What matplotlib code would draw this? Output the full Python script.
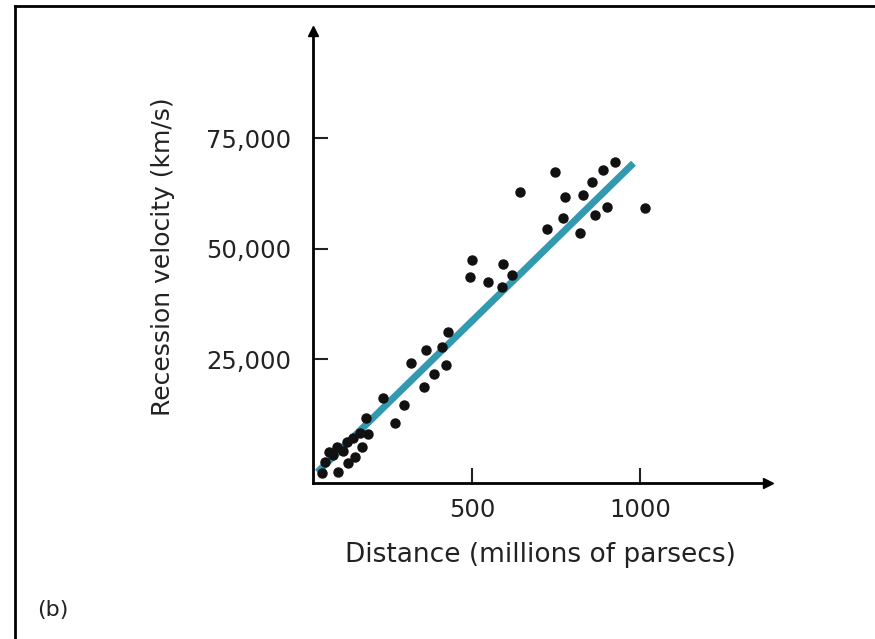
import matplotlib.pyplot as plt
from matplotlib.lines import Line2D

plt.rcParams['font.family'] = ['DejaVu Sans']

# distance (millions of parsecs) and recession velocity (km/s)
distance = [926, 890, 747, 857, 643, 777, 830, 902, 1015, 866, 771, 723, 821,
            500, 592, 494, 548, 619, 589,
            429, 363, 411, 319, 423, 387, 357, 235, 298, 271, 185,
            167, 190, 146, 128, 98, 173, 152, 86, 131, 101, 54, 62, 115, 75]
velocity = [69600, 67800, 67300, 65000, 62800, 61600, 62100, 59400, 59200, 57600, 56900, 54400, 53500,
            47400, 46500, 43500, 42400, 44000, 41300,
            31100, 27000, 27700, 24100, 23600, 21600, 18700, 16200, 14600, 10500, 11600,
            8300, 8000, 7100, 6200, 5100, 5100, 2800, 3300, 1500, -500, -800, 1700, 4200, 3900]

# fitted line end points
fit_d = [40, 980]
fit_v = [-600, 69300]

xticks = [500, 1000]
xlabels = ['500', '1000']
yticks = [25000, 50000, 75000]
ylabels = ['25,000', '50,000', '75,000']

fig = plt.figure(figsize=(8.75, 6.39), dpi=100)
ax = fig.add_axes([0.3577, 0.2441, 0.5200, 0.7080])

ax.plot(fit_d, fit_v, color='#3399b0', lw=5, solid_capstyle='butt', zorder=2)
ax.plot(distance, velocity, 'o', color='#111111', ms=6.5, zorder=3)

ax.set_xlim(27, 1380)
ax.set_ylim(-3050, 99300)
ax.spines['top'].set_visible(False)
ax.spines['right'].set_visible(False)
for s in ['left', 'bottom']:
    ax.spines[s].set_linewidth(2)
# arrow heads on the axes
ax.plot(1, 0, '>k', ms=7, transform=ax.transAxes, clip_on=False)
ax.plot(0, 1, '^k', ms=7, transform=ax.transAxes, clip_on=False)

ax.set_xticks(xticks, xlabels)
ax.set_yticks(yticks, ylabels)
ax.tick_params(direction='in', length=11, width=1.5, labelsize=17.5, colors='#222222')
ax.tick_params(axis='x', pad=11)
ax.tick_params(axis='y', pad=16)

ax.set_xlabel('Distance (millions of parsecs)', fontsize=19, color='#222222', labelpad=14)
ax.set_ylabel('Recession velocity (km/s)', fontsize=18, color='#222222', labelpad=22)

fig.text(0.06, 0.045, '(b)', fontsize=16, ha='center', va='center', color='#222222')

# frame lines at top and left of the original picture
fig.add_artist(Line2D([0.017, 1], [0.991, 0.991], color='k', lw=2))
fig.add_artist(Line2D([0.017, 0.017], [0, 0.991], color='k', lw=2))

fig.savefig('out.png', dpi=100)
